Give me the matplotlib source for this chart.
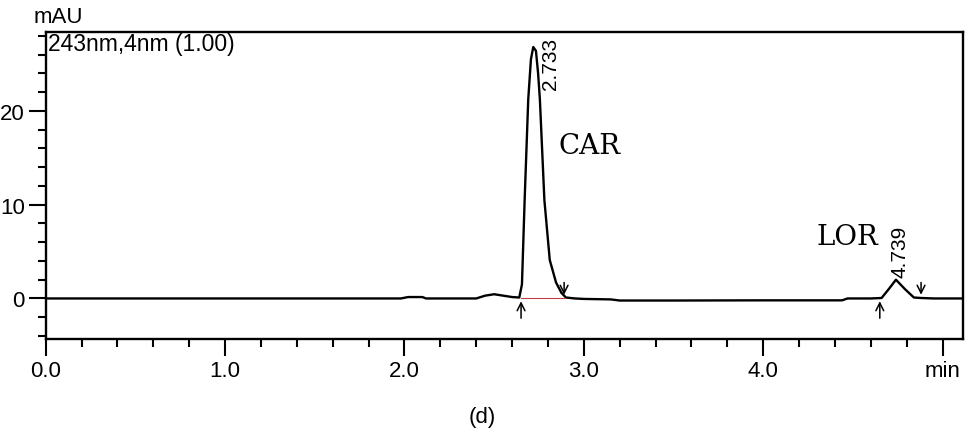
import matplotlib
matplotlib.use("Agg")
import matplotlib.pyplot as plt
from matplotlib import font_manager
from matplotlib.ticker import MultipleLocator, FixedLocator

time_min = [0.00, 0.50, 1.00, 1.50, 1.98, 2.02, 2.10, 2.12, 2.40, 2.45, 2.50,
            2.55, 2.60, 2.64, 2.655, 2.67, 2.69, 2.705, 2.718, 2.733, 2.745,
            2.755, 2.78, 2.81, 2.845, 2.875, 2.90, 2.95, 3.00, 3.15, 3.20,
            3.50, 4.00, 4.44, 4.47, 4.60, 4.66, 4.70, 4.74, 4.79, 4.84, 4.88,
            4.95, 5.12]
signal_mau = [0.00, 0.00, 0.00, 0.00, 0.00, 0.15, 0.15, 0.00, 0.00, 0.30, 0.45,
              0.30, 0.15, 0.10, 1.5, 10.5, 21.2, 25.5, 26.8, 26.4, 24.0,
              21.2, 10.5, 4.1, 1.7, 0.6, 0.10, 0.00, -0.05, -0.10, -0.22,
              -0.22, -0.20, -0.20, 0.00, 0.00, 0.05, 1.0, 2.0, 1.0, 0.10, 0.05,
              0.00, 0.00]

peak_times = [2.733, 4.739]
peak_names = ["CAR", "LOR"]
peak_starts = [2.65, 4.65]
peak_ends = [2.89, 4.88]

available = {f.name for f in font_manager.fontManager.ttflist}
narrow = "Liberation Sans Narrow" if "Liberation Sans Narrow" in available else "Liberation Sans"

fig = plt.figure(figsize=(9.77, 4.35), dpi=100)
ax = fig.add_axes([0.0468, 0.218, 0.9389, 0.706])

ax.plot(time_min, signal_mau, color="black", lw=1.7)
# integration baseline under CAR
ax.plot([peak_starts[0], peak_ends[0]], [0, 0], color="#c04040", lw=0.8)

# start / end markers
for s in peak_starts:
    ax.annotate("", xy=(s, 0), xytext=(s, -2.4),
                arrowprops=dict(arrowstyle="->", color="black", lw=1.1,
                                mutation_scale=14))
for e in peak_ends:
    ax.annotate("", xy=(e, 0.1), xytext=(e, 2.0),
                arrowprops=dict(arrowstyle="->", color="black", lw=1.1,
                                mutation_scale=14))

ax.text(2.816, 27.9, "2.733", rotation=90, ha="center", va="top",
        fontsize=15, family=narrow)
ax.text(4.765, 2.3, "4.739", rotation=90, ha="center", va="bottom",
        fontsize=15, family=narrow)
ax.text(3.03, 16.3, peak_names[0], fontsize=20, family="DejaVu Serif",
        ha="center", va="center")
ax.text(4.47, 6.6, peak_names[1], fontsize=20, family="DejaVu Serif",
        ha="center", va="center")

ax.set_xlim(0, 5.114)
ax.set_ylim(-4.34, 28.4)

ax.xaxis.set_major_locator(FixedLocator([0, 1, 2, 3, 4, 5]))
ax.set_xticklabels(["0.0", "1.0", "2.0", "3.0", "4.0", "min"])
ax.xaxis.set_minor_locator(MultipleLocator(0.2))
ax.yaxis.set_major_locator(FixedLocator([0, 10, 20]))
ax.yaxis.set_minor_locator(MultipleLocator(2))

ax.tick_params(which="major", length=12, width=1.5, direction="out",
               labelsize=16, pad=3)
ax.tick_params(which="minor", length=6, width=1.5, direction="out")
for lbl in ax.get_xticklabels() + ax.get_yticklabels():
    lbl.set_family(narrow)
for sp in ax.spines.values():
    sp.set_linewidth(1.7)

fig.text(0.034, 0.935, "mAU", fontsize=16, family=narrow, va="bottom")
ax.text(0.002, 0.999, "243nm,4nm (1.00)", transform=ax.transAxes,
        fontsize=16.5, family=narrow, va="top", ha="left")
fig.text(0.494, 0.041, "(d)", fontsize=16, family="Liberation Sans",
         ha="center", va="center")

fig.savefig("out.png", dpi=100)
